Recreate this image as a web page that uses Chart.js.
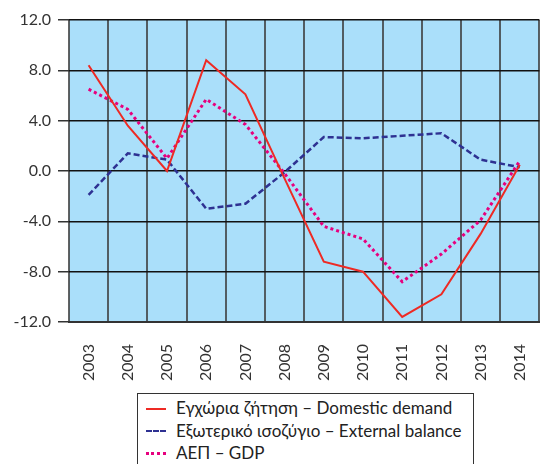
<!DOCTYPE html>
<html>
<head>
<meta charset="utf-8">
<script src="https://cdn.jsdelivr.net/npm/chart.js@4.4.0/dist/chart.umd.min.js"></script>
<style>
  html, body { margin: 0; padding: 0; background: #fff; overflow: hidden; width: 555px; height: 464px; }
  #wrap { position: absolute; left: 0; top: 0; width: 561px; height: 464px; }
  #legend { position: absolute; left: 137px; top: 393px; width: 335px; height: 80px;
    border: 1px solid #333; background: #fff; font-family: Lato, "Open Sans", sans-serif; font-size: 17px; color: #222; }
  .row { position: absolute; left: 8px; height: 20px; line-height: 20px; white-space: nowrap; }
  .smp { display: inline-block; width: 20px; height: 0; vertical-align: middle; margin-right: 10px; position: relative; top: -1px; }
</style>
</head>
<body>
<div id="wrap"><canvas id="c"></canvas></div>
<div id="legend"></div>
<script>
const years = ["2003","2004","2005","2006","2007","2008","2009","2010","2011","2012","2013","2014"];
const domesticDemand = [8.4, 3.6, 0.0, 8.8, 6.1, -0.6, -7.2, -8.0, -11.6, -9.8, -5.0, 0.5];
const externalBalance = [-1.9, 1.4, 0.9, -3.0, -2.6, -0.1, 2.7, 2.6, 2.8, 3.0, 0.9, 0.3];
const gdp = [6.5, 4.9, 1.0, 5.7, 3.7, -0.2, -4.4, -5.4, -8.8, -6.6, -3.9, 0.8];
const seriesNames = ["Εγχώρια ζήτηση – Domestic demand", "Εξωτερικό ισοζύγιο – External balance", "ΑΕΠ – GDP"];
const yTicks = [-12, -8, -4, 0, 4, 8, 12];

const colors = ["#ee2a24", "#2e3192", "#e6007e"];
const dashes = [[], [6, 3], [3, 3]];
const widths = [2, 2.5, 3];
const cssStyles = ["2px solid " + colors[0], "2px dashed " + colors[1], "3px dotted " + colors[2]];

const bgPlugin = {
  id: 'bg',
  beforeDraw(chart) {
    const a = chart.chartArea, ctx = chart.ctx;
    ctx.save();
    ctx.fillStyle = '#aadffa';
    ctx.fillRect(a.left, a.top, a.right - a.left, a.bottom - a.top);
    ctx.restore();
  }
};

const data = {
  labels: years,
  datasets: [domesticDemand, externalBalance, gdp].map((d, i) => ({
    label: seriesNames[i],
    data: d,
    borderColor: colors[i],
    backgroundColor: colors[i],
    borderWidth: widths[i],
    borderDash: dashes[i],
    pointRadius: 0,
    tension: 0,
    fill: false
  }))
};

new Chart(document.getElementById('c'), {
  type: 'line',
  data,
  plugins: [bgPlugin],
  options: {
    responsive: true,
    maintainAspectRatio: false,
    animation: false,
    layout: { padding: { top: 20, right: 0, left: 0, bottom: 0 } },
    plugins: { legend: { display: false }, tooltip: { enabled: false } },
    scales: {
      x: {
        offset: true,
        grid: { offset: true, color: 'rgba(60,60,60,0.8)', lineWidth: 2, drawTicks: false },
        border: { color: '#333', width: 2 },
        ticks: { minRotation: 90, maxRotation: 90, padding: 22, color: '#333',
          font: { family: 'Lato, "Open Sans", sans-serif', size: 16 } },
        afterFit(s) { s.height = 142; }
      },
      y: {
        min: -12, max: 12,
        afterBuildTicks(s) { s.ticks = yTicks.map(v => ({ value: v })); },
        grid: { color: '#111', lineWidth: 1.5, tickLength: 11, tickColor: '#333' },
        border: { display: false },
        ticks: { padding: 7, color: '#333', callback: v => Number(v).toFixed(1),
          font: { family: 'Lato, "Open Sans", sans-serif', size: 16 } },
        afterFit(s) { s.width = 69; }
      }
    }
  }
});

const lg = document.getElementById('legend');
seriesNames.forEach((n, i) => {
  const r = document.createElement('div');
  r.className = 'row';
  r.style.top = (4 + i * 22.5) + 'px';
  const s = document.createElement('span');
  s.className = 'smp';
  s.style.borderTop = cssStyles[i];
  r.appendChild(s);
  r.appendChild(document.createTextNode(n));
  lg.appendChild(r);
});
</script>
</body>
</html>
